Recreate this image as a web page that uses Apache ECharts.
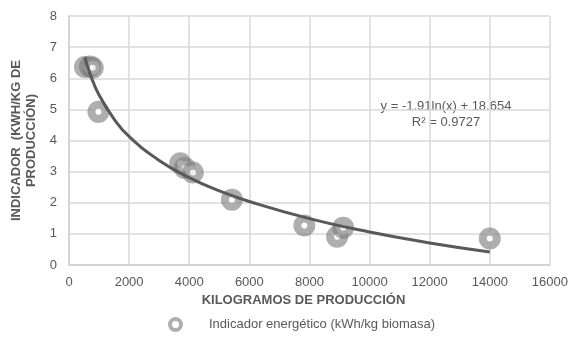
<!DOCTYPE html>
<html>
<head>
<meta charset="utf-8">
<script src="https://cdn.jsdelivr.net/npm/echarts@6/dist/echarts.min.js"></script>
<style>
  html, body { margin: 0; padding: 0; background: #fff; }
  #grafica { width: 571px; height: 338px; }
</style>
</head>
<body>
<div id="grafica"></div>
<script>
// Puntos medidos: kilogramos de producción y su indicador
const kilogramos = [530, 700, 790, 980, 3700, 3850, 4120, 5420, 7830, 8920, 9120, 14000];
const indicador = [6.36, 6.38, 6.34, 4.92, 3.27, 3.12, 2.97, 2.10, 1.27, 0.91, 1.20, 0.85];

// Curva de tendencia
const tendenciaX = [530, 700, 1000, 1500, 2000, 3000, 4000, 5000, 6000, 8000, 10000, 12000, 14000];
const tendenciaY = [6.67, 6.14, 5.46, 4.69, 4.13, 3.36, 2.81, 2.38, 2.04, 1.49, 1.06, 0.71, 0.42];

const ticksX = [0, 2000, 4000, 6000, 8000, 10000, 12000, 14000, 16000];
const ecuacion = 'y = -1.91ln(x) + 18.654';
const r2 = 'R² = 0.9727';
const nombreSerie = 'Indicador energético (kWh/kg biomasa)';

const grafica = echarts.init(document.getElementById('grafica'));

const gris = '#595959';
const fuente = 'Liberation Sans, Arial, sans-serif';
const anillo = 'rgba(125,125,125,0.78)';

let option = {
    animation: false,
    textStyle: { fontFamily: fuente },
    grid: { left: 69, right: 21, top: 16, bottom: 73 },
    xAxis: {
        type: 'value',
        min: ticksX[0],
        max: ticksX[ticksX.length - 1],
        interval: 2000,
        name: 'KILOGRAMOS DE PRODUCCIÓN',
        nameLocation: 'middle',
        nameGap: 29,
        nameTextStyle: { color: gris, fontWeight: 'bold', fontSize: 13, fontFamily: fuente, padding: [0, 12, 0, 0] },
        axisLine: { show: true, lineStyle: { color: '#d0d0d0', width: 1.5 } },
        axisTick: { show: false },
        axisLabel: { color: gris, fontSize: 13, margin: 11, fontFamily: fuente, formatter: v => String(v) },
        splitLine: { show: true, lineStyle: { color: '#d9d9d9', width: 1.5 } }
    },
    yAxis: {
        type: 'value',
        min: 0,
        max: 8,
        interval: 1,
        name: 'INDICADOR  (KWH/KG DE\nPRODUCCIÓN)',
        nameLocation: 'middle',
        nameRotate: 90,
        nameGap: 27,
        nameTextStyle: { color: gris, fontWeight: 'bold', fontSize: 13, lineHeight: 15, fontFamily: fuente },
        axisLine: { show: true, lineStyle: { color: '#d0d0d0', width: 1.5 } },
        axisTick: { show: false },
        axisLabel: { color: gris, fontSize: 13, margin: 12, fontFamily: fuente },
        splitLine: { show: true, lineStyle: { color: '#d9d9d9', width: 1.5 } }
    },
    legend: {
        bottom: 1,
        left: 163,
        itemWidth: 11,
        itemHeight: 11,
        itemStyle: { color: '#ffffff', borderColor: anillo, borderWidth: 4 },
        textStyle: { color: gris, fontSize: 13, fontFamily: fuente, padding: [0, 0, 0, 23] },
        data: [{ name: nombreSerie, icon: 'circle' }]
    },
    graphic: [
        {
            type: 'text',
            x: 446,
            y: 106,
            style: { text: ecuacion, fill: gris, font: '13px ' + fuente, textAlign: 'center', textVerticalAlign: 'middle' }
        },
        {
            type: 'text',
            x: 446,
            y: 122,
            style: { text: r2, fill: gris, font: '13px ' + fuente, textAlign: 'center', textVerticalAlign: 'middle' }
        }
    ],
    series: [
        {
            name: nombreSerie,
            type: 'scatter',
            symbol: 'circle',
            symbolSize: 14,
            itemStyle: {
                color: '#ffffff',
                borderColor: anillo,
                borderWidth: 8
            },
            z: 2,
            data: kilogramos.map((k, i) => [k, indicador[i]])
        },
        {
            name: 'Tendencia',
            type: 'line',
            smooth: true,
            showSymbol: false,
            lineStyle: { color: '#595959', width: 3 },
            z: 3,
            data: tendenciaX.map((k, i) => [k, tendenciaY[i]])
        }
    ]
};

grafica.setOption(option);
</script>
</body>
</html>
